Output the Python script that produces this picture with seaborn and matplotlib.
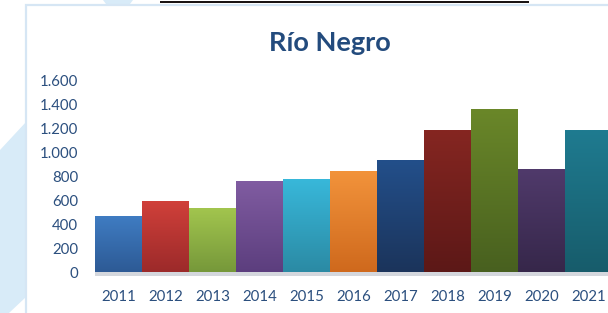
import numpy as np
import pandas as pd
import matplotlib
matplotlib.use("Agg")
import matplotlib.pyplot as plt
import seaborn as sns
from matplotlib.patches import Polygon, Rectangle
from matplotlib.ticker import FuncFormatter, MultipleLocator
from matplotlib.colors import to_rgb

# ---- data ----
years = ["2011", "2012", "2013", "2014", "2015", "2016", "2017", "2018", "2019", "2020", "2021"]
values = [465, 590, 533, 758, 775, 841, 933, 1183, 1358, 858, 1183]
top_colors = ["#3f7cc2", "#d0403a", "#a2c54e", "#805ca1", "#38b8da", "#f2933b",
              "#234f8a", "#852621", "#6a8729", "#503a6b", "#1f7b90"]
bottom_colors = ["#2d5a95", "#9c2a2a", "#76983a", "#5c3e7e", "#2b8aa4", "#cf691d",
                 "#1b345b", "#5c1817", "#48601f", "#36274a", "#175c6b"]
title = "Río Negro"

W, H = 608, 313
sns.set_theme(style="white")
plt.rcParams["font.family"] = ["Lato", "DejaVu Sans"]

fig = plt.figure(figsize=(W / 100, H / 100), dpi=100)
fig.patch.set_facecolor("white")

def fp(x, y):
    return (x / W, 1 - y / H)

# ---- background decoration ----
lb = "#d8ebf8"
fig.add_artist(Polygon([fp(0, 150), fp(26, 122), fp(26, 297), fp(9, 313), fp(0, 313)],
                       closed=True, transform=fig.transFigure, facecolor=lb, edgecolor="none", zorder=-3))
fig.add_artist(Polygon([fp(103, 0), fp(133, 0), fp(130, 4), fp(106, 4)],
                       closed=True, transform=fig.transFigure, facecolor=lb, edgecolor="none", zorder=-3))
# panel border (extends past bottom and right edges)
fig.add_artist(Rectangle(fp(26.5, 330), (W + 20 - 26.5) / W, (330 - 4.5) / H, transform=fig.transFigure,
                         facecolor="white", edgecolor="#d6e6f4", linewidth=1.6, zorder=-2))
# black line at top
fig.add_artist(Rectangle(fp(160, 3), (529 - 160) / W, 2.2 / H, transform=fig.transFigure,
                         facecolor="#1a1414", edgecolor="none", zorder=-1))
# shadow under bars
fig.add_artist(Rectangle(fp(95, 276), (612 - 95) / W, 4 / H, transform=fig.transFigure,
                         facecolor="#c3c7cf", edgecolor="none", alpha=0.7, zorder=-1))

# ---- axes ----
ax_left, ax_right = 95, 612
ax_top, ax_bottom = 80, 272
ax = fig.add_axes([ax_left / W, (H - ax_bottom) / H, (ax_right - ax_left) / W, (ax_bottom - ax_top) / H])
ax.patch.set_alpha(0)
ax.set_zorder(1)

df = pd.DataFrame({"year": years, "value": values})
sns.barplot(data=df, x="year", y="value", hue="year", palette=top_colors, legend=False,
            width=1.0, saturation=1, ax=ax, zorder=2)

# gradients on bars
for p, ct, cb in zip(ax.patches, top_colors, bottom_colors):
    x0, w, h = p.get_x(), p.get_width(), p.get_height()
    t = np.linspace(0, 1, 128)[:, None]
    c1, c2 = np.array(to_rgb(ct)), np.array(to_rgb(cb))
    grad = (c1[None, :] * (1 - t) + c2[None, :] * t)[:, None, :]
    im = ax.imshow(grad, extent=[x0, x0 + w, 0, h], origin="upper", aspect="auto",
                   zorder=2.5, interpolation="bilinear")
    im.set_clip_path(p)

ax.set_xlim(-0.5, len(years) - 0.5)
ax.set_ylim(0, 1600)
ax.yaxis.set_major_locator(MultipleLocator(200))
ax.yaxis.set_major_formatter(FuncFormatter(lambda v, _: f"{int(v):,}".replace(",", ".")))
ax.set_xlabel("")
ax.set_ylabel("")
for s in ax.spines.values():
    s.set_visible(False)
tick_color = "#2b4f7e"
ax.tick_params(axis="y", length=0, pad=12, labelsize=10.8, labelcolor=tick_color)
ax.tick_params(axis="x", length=0, pad=13, labelsize=10.8, labelcolor=tick_color)
ax.grid(False)

# title
fig.text(330 / W, 1 - 51 / H, title, ha="center", va="baseline", fontsize=19.5,
         fontweight="bold", color="#234b7d")

fig.savefig("out.png", dpi=100)
